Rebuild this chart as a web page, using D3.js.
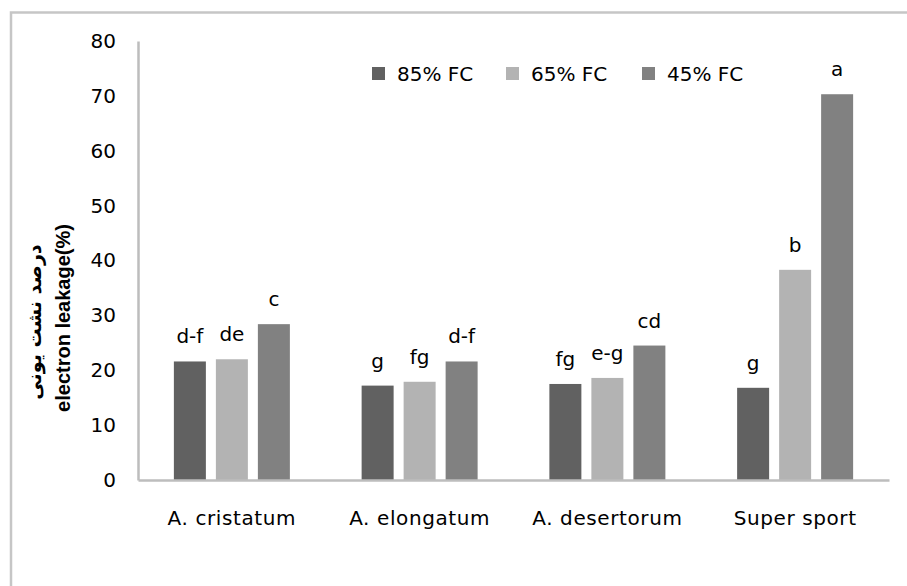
<!DOCTYPE html>
<html>
<head>
<meta charset="utf-8">
<script src="https://cdn.jsdelivr.net/npm/d3@7"></script>
<style>
  html, body { margin: 0; padding: 0; background: #fff; }
  svg { display: block; }
</style>
</head>
<body>
<svg id="chart" width="907" height="586"></svg>
<script>
const categories = ["A. cristatum", "A. elongatum", "A. desertorum", "Super sport"];
const seriesNames = ["85% FC", "65% FC", "45% FC"];
const values85 = [21.6, 17.2, 17.5, 16.8];
const values65 = [22.0, 17.9, 18.6, 38.3];
const values45 = [28.4, 21.6, 24.5, 70.3];
const letters85 = ["d-f", "g", "fg", "g"];
const letters65 = ["de", "fg", "e-g", "b"];
const letters45 = ["c", "d-f", "cd", "a"];
const yTicks = [0, 10, 20, 30, 40, 50, 60, 70, 80];
const yTitle = "electron leakage(%)";
const yTitleFa = "درصد نشت یونی";

const seriesValues = [values85, values65, values45];
const seriesLetters = [letters85, letters65, letters45];
const colors = ["#616161", "#b3b3b3", "#818181"];

const svg = d3.select("#chart");
const font = "'DejaVu Sans', Verdana, sans-serif";

// outer frame
svg.append("rect").attr("x", 11).attr("y", 12.5).attr("width", 1000).attr("height", 1000)
  .attr("fill", "none").attr("stroke", "#c6c6c6").attr("stroke-width", 2.5);

const plotL = 138, plotR = 889, plotT = 41, plotB = 480;
const x0 = d3.scaleBand().domain(categories).range([plotL, plotR]).paddingInner(0).paddingOuter(0);
const x1 = d3.scaleBand().domain(seriesNames).range([-58, 58]).paddingInner(10 / 42).paddingOuter(0);
const y = d3.scaleLinear().domain([0, 80]).range([plotB, plotT]);

// bars
const groups = svg.append("g").selectAll("g").data(categories).join("g")
  .attr("transform", d => `translate(${x0(d) + x0.bandwidth() / 2},0)`);

groups.each(function(cat, ci) {
  const g = d3.select(this);
  seriesNames.forEach((s, si) => {
    const v = seriesValues[si][ci];
    g.append("rect")
      .attr("x", x1(s)).attr("y", y(v))
      .attr("width", x1.bandwidth()).attr("height", y(0) - y(v))
      .attr("fill", colors[si]);
    g.append("text")
      .attr("x", x1(s) + x1.bandwidth() / 2).attr("y", y(v) - 18)
      .attr("text-anchor", "middle")
      .attr("font-family", font).attr("font-size", 20).attr("fill", "#000")
      .text(seriesLetters[si][ci]);
  });
});

// y axis
const yAxis = d3.axisLeft(y).tickValues(yTicks).tickSize(0).tickPadding(22);
const ya = svg.append("g").attr("transform", `translate(${plotL},0)`).call(yAxis);
ya.select(".domain").attr("stroke", "#bdbdbd").attr("stroke-width", 2.5);
ya.selectAll("text").attr("font-family", font).attr("font-size", 20).attr("fill", "#000");

// x axis
const xAxis = d3.axisBottom(x0).tickSize(0).tickPadding(31);
const xa = svg.append("g").attr("transform", `translate(0,${plotB})`).call(xAxis);
xa.select(".domain").attr("stroke", "#bdbdbd").attr("stroke-width", 2.5);
xa.selectAll("text").attr("font-family", font).attr("font-size", 20)
  .attr("letter-spacing", 0.6).attr("fill", "#000");

// y titles
svg.append("text")
  .attr("transform", `translate(70,318) rotate(-90)`)
  .attr("text-anchor", "middle")
  .attr("font-family", "'Liberation Sans', Arial, sans-serif").attr("font-weight", "bold")
  .attr("font-size", 20).attr("fill", "#000")
  .text(yTitle);
svg.append("text")
  .attr("transform", `translate(41,322) rotate(-90)`)
  .attr("text-anchor", "middle")
  .attr("font-family", "'DejaVu Sans', 'Noto Sans', sans-serif").attr("font-weight", "bold")
  .attr("font-size", 19).attr("fill", "#000")
  .attr("direction", "rtl")
  .text(yTitleFa);

// legend
const legendX = [372, 506, 642];
const lg = svg.append("g");
seriesNames.forEach((s, i) => {
  lg.append("rect").attr("x", legendX[i]).attr("y", 67).attr("width", 13).attr("height", 13)
    .attr("fill", colors[i]);
  lg.append("text").attr("x", legendX[i] + 25).attr("y", 74).attr("dy", "0.35em")
    .attr("font-family", font).attr("font-size", 20).attr("fill", "#000")
    .text(s);
});
</script>
</body>
</html>
